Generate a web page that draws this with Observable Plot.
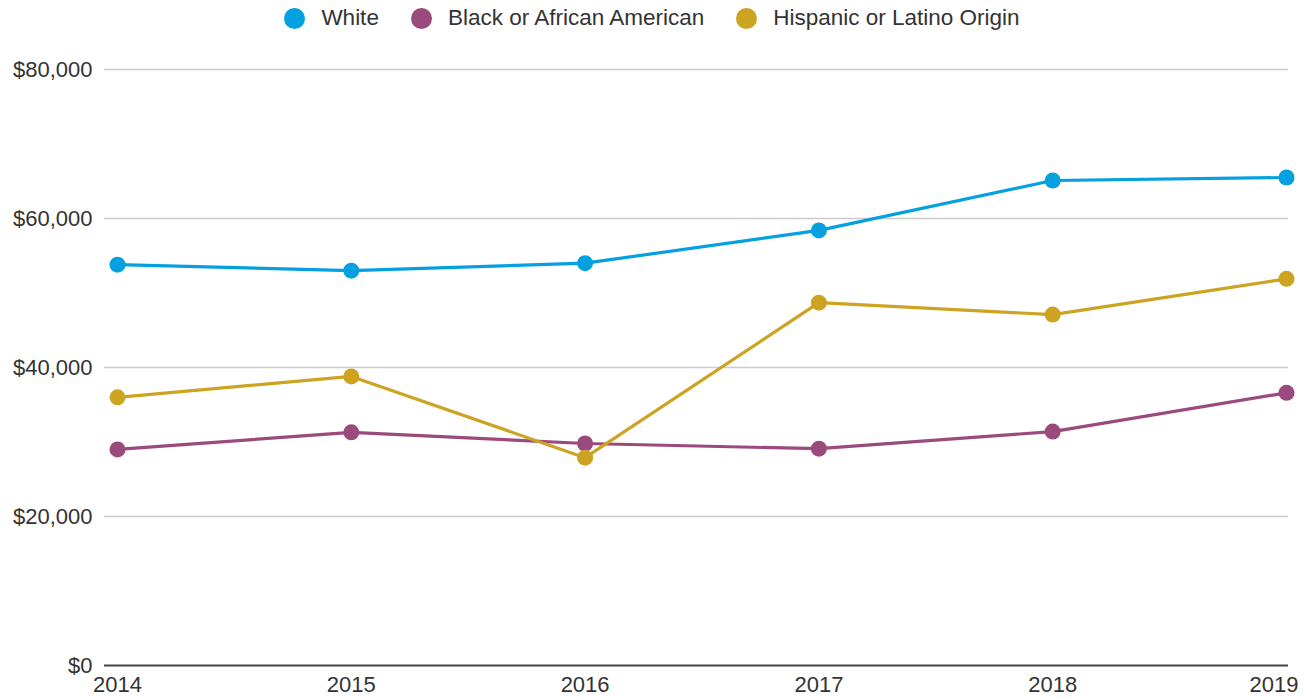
<!DOCTYPE html>
<html>
<head>
<meta charset="utf-8">
<script src="https://cdn.jsdelivr.net/npm/d3@7"></script>
<script src="https://cdn.jsdelivr.net/npm/@observablehq/plot@0.6"></script>
<style>
  html, body { margin: 0; padding: 0; background: #fff; }
  body { width: 1304px; height: 699px; overflow: hidden; font-family: "Liberation Sans", Arial, sans-serif; }
  #legend { height: 36px; display: flex; justify-content: center; align-items: center; font-size: 22.5px; color: #333; }
  .item { display: flex; align-items: center; margin: 0 16px; }
  .sw { width: 21px; height: 21px; border-radius: 50%; margin-right: 16px; }
</style>
</head>
<body>
<div id="legend"></div>
<div id="chart"></div>
<script>
const years = [2014, 2015, 2016, 2017, 2018, 2019];
const seriesNames = ["White", "Black or African American", "Hispanic or Latino Origin"];
const colors = ["#04a0e0", "#9b4a7d", "#cda322"];
const white = [53800, 53000, 54000, 58400, 65100, 65500];
const black = [29000, 31300, 29800, 29100, 31400, 36600];
const hispanic = [36000, 38800, 27900, 48700, 47100, 51900];
const yTicks = [0, 20000, 40000, 60000, 80000];

const values = [white, black, hispanic];
const data = [];
seriesNames.forEach((s, i) => years.forEach((y, j) => data.push({series: s, year: y, value: values[i][j]})));

const legend = document.getElementById("legend");
seriesNames.forEach((s, i) => {
  const it = document.createElement("div");
  it.className = "item";
  it.innerHTML = `<span class="sw" style="background:${colors[i]}"></span><span>${s}</span>`;
  legend.appendChild(it);
});

const fmt = d => "$" + d3.format(",")(d);
const chart = Plot.plot({
  width: 1304,
  height: 663,
  marginLeft: 104,
  marginRight: 16,
  marginTop: 33,
  marginBottom: 34,
  style: {fontFamily: "Liberation Sans, Arial, sans-serif", fontSize: "22px", color: "#333", background: "#fff"},
  x: {domain: [2014, 2019], insetLeft: 13, insetRight: 2},
  y: {domain: [0, 80000]},
  color: {domain: seriesNames, range: colors},
  marks: [
    Plot.ruleY(yTicks.filter(d => d > 0), {stroke: "#cccccc", strokeWidth: 1.5, strokeOpacity: 1}),
    Plot.ruleY([0], {stroke: "#444", strokeWidth: 2}),
    Plot.axisY({ticks: yTicks, tickFormat: fmt, tickSize: 0, tickPadding: 12, label: null, fill: "#333"}),
    Plot.axisX({ticks: years.slice(0, -1), tickFormat: d => String(d), tickSize: 0, tickPadding: 11, label: null, fill: "#333"}),
    Plot.axisX({ticks: years.slice(-1), tickFormat: d => String(d), tickSize: 0, tickPadding: 11, label: null, fill: "#333", textAnchor: "end", dx: 12}),
    Plot.line(data, {x: "year", y: "value", stroke: "series", strokeWidth: 3.2}),
    Plot.dot(data, {x: "year", y: "value", fill: "series", r: 8})
  ]
});
document.getElementById("chart").appendChild(chart);
</script>
</body>
</html>
